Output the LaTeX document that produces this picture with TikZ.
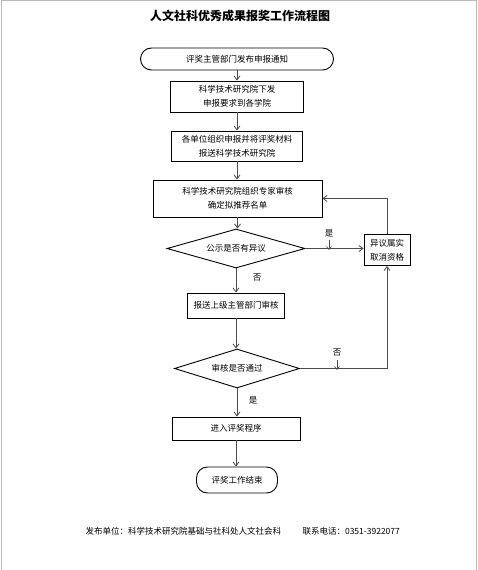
\documentclass[tikz,border=0pt]{standalone}
\usepackage{fontspec}
\setmainfont{Noto Sans CJK SC}
\usetikzlibrary{arrows.meta, shapes.geometric, positioning}
\tikzset{process/.style={draw,rectangle,line width=0.9pt,inner sep=0pt,align=center,
        font=\fontsize{8.5}{14}\selectfont},
    terminal/.style={process, rounded corners=11pt},
    decision/.style={draw,diamond,aspect=3.5,line width=0.9pt,inner sep=0pt,
        font=\fontsize{8.5}{14}\selectfont},
    flow/.style={draw,black!70,line width=0.8pt,-{Straight Barb[length=4pt,width=6pt]}},
    answer/.style={font=\fontsize{8.5}{10}\selectfont,inner sep=0pt},
    tick/.style={draw,black!70,line width=0.6pt,-{Straight Barb[length=3pt,width=5pt]}},
    pageedge/.style={draw,gray!55,line width=1pt}}

\begin{document}
\begin{tikzpicture}[x=1pt,y=-1pt]
    \useasboundingbox (0,0) rectangle (478,570);
    \draw[pageedge] (1,570) -- (1,0.5) -- (476.5,0.5) -- (476.5,570);

    \node[font=\fontsize{12}{14}\bfseries] (title) at (240,16) {人文社科优秀成果报奖工作流程图};

    \node[terminal, minimum width=193pt, minimum height=22pt] (start) at (237,59) {评奖主管部门发布申报通知};
    \foreach \pos/\name/\bw/\bh/\txt in {{(237,96.5)/issue/133/31/{科学技术研究院下发\\申报要求到各学院}},
        {(237,146)/submit/131/30/{各单位组织申报并将评奖材料\\报送科学技术研究院}},
        {(237.5,198.5)/review/169/37/{科学技术研究院组织专家审核\\确定拟推荐名单}},
        {(387,250)/cancel/46/31/{异议属实\\取消资格}},
        {(236,305.5)/report/97/25/{报送上级主管部门审核}},
        {(236,428.5)/enter/128/23/{进入评奖程序}}}
        \node[process, minimum width=\bw pt, minimum height=\bh pt] (\name) at \pos {\txt};
    \node[decision, minimum width=138pt, minimum height=39pt] (public) at (236,248.5) {公示是否有异议};
    \node[decision, minimum width=125pt, minimum height=39pt] (pass) at (237,368.5) {审核是否通过};
    \node[terminal, minimum width=81pt, minimum height=26pt] (finish) at (237,480) {评奖工作结束};

    % main line
    \foreach \source/\dest in {start/issue, issue/submit, submit/review, review/public, public/report, report/pass, pass/enter, enter/finish}
        \path[flow] (\source.south) -- (\source.south |- \dest.north);

    % side branches
    \path[flow] (public.east) -- (public.east -| cancel.west);
    \path[flow] (cancel.north) -- (cancel.north |- review.east) -- (review.east);
    \path[flow] (pass.east) -- (pass.east -| cancel.south) -- (cancel.south);

    % answers
    \node[answer] (yes1) at (329,233) {是};
    \node[answer] (no1) at (257,278) {否};
    \node[answer] (no2) at (337,353) {否};
    \node[answer] (yes2) at (253,400) {是};
    \path[tick] (yes1.south) ++(0,3) -- ++(0,10);
    \path[tick] (no2.south) ++(0,3) -- ++(0,10);

    \node[font=\fontsize{8.5}{10}\selectfont, anchor=west] (issuer) at (82,531) {发布单位：科学技术研究院基础与社科处人文社会科};
    \node[font=\fontsize{8.5}{10}\selectfont, anchor=west] (phone) at (299,531) {联系电话：0351-3922077};
\end{tikzpicture}
\end{document}
